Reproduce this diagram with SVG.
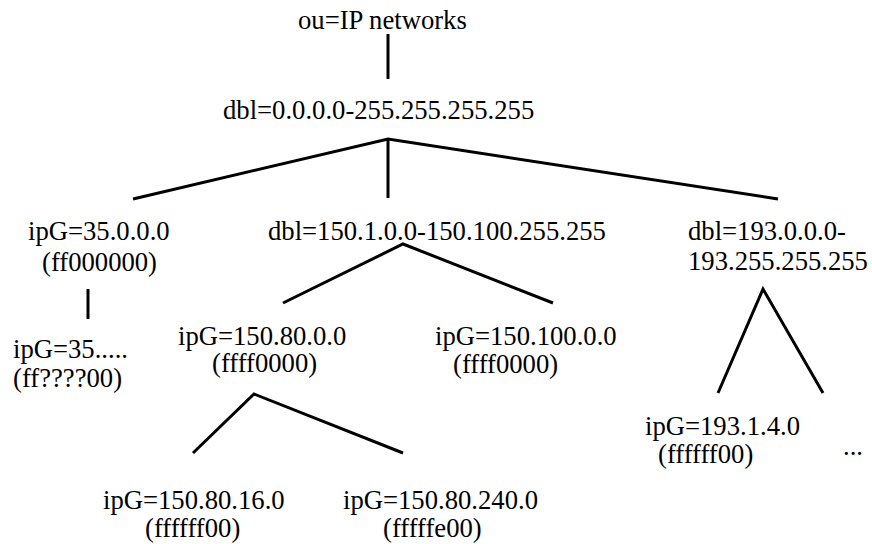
<svg xmlns="http://www.w3.org/2000/svg" width="872" height="544" viewBox="0 0 872 544">
  <style>
    .label { font-family: 'Liberation Serif', Tinos, 'Times New Roman', 'Nimbus Roman', 'Nimbus Roman No9 L', FreeSerif, 'DejaVu Serif', 'Noto Serif', serif; font-size: 26.67px; fill: #000; }
    .edge { fill: none; stroke: #000; stroke-width: 3; stroke-linejoin: miter; }
  </style>
  <rect width="872" height="544" fill="#fff"/>

  <!-- tree edges -->
  <g id="connectors">
    <line class="edge" x1="388" y1="34" x2="388" y2="79"/>
    <polyline class="edge" points="133,199 388,139 778,199"/>
    <line class="edge" x1="388" y1="139" x2="388" y2="198"/>
    <line class="edge" x1="88" y1="289" x2="88" y2="319"/>
    <polyline class="edge" points="283,303 403,244 553,303"/>
    <polyline class="edge" points="718,393 763,289 823,393"/>
    <polyline class="edge" points="193,453 254,394 403,453"/>
  </g>

  <g class="label">
    <g id="root">
      <text x="298" y="29">ou=IP networks</text>
    </g>
    <g id="all-range">
      <text x="223" y="119">dbl=0.0.0.0-255.255.255.255</text>
    </g>
    <g id="net-35">
      <text x="28" y="240">ipG=35.0.0.0</text>
      <text x="42" y="271">(ff000000)</text>
    </g>
    <g id="range-150">
      <text x="268" y="240">dbl=150.1.0.0-150.100.255.255</text>
    </g>
    <g id="range-193">
      <text x="688" y="240">dbl=193.0.0.0-</text>
      <text x="688" y="270">193.255.255.255</text>
    </g>
    <g id="net-35-sub">
      <text x="13" y="358">ipG=35.....</text>
      <text x="13" y="387">(ff????00)</text>
    </g>
    <g id="net-150-80">
      <text x="178" y="345">ipG=150.80.0.0</text>
      <text x="212" y="372">(ffff0000)</text>
    </g>
    <g id="net-150-100">
      <text x="435" y="345">ipG=150.100.0.0</text>
      <text x="453" y="373">(ffff0000)</text>
    </g>
    <g id="net-193-1-4">
      <text x="645" y="435">ipG=193.1.4.0</text>
      <text x="658" y="463">(ffffff00)</text>
    </g>
    <g id="more-193">
      <text x="843" y="455">...</text>
    </g>
    <g id="net-150-80-16">
      <text x="103" y="509">ipG=150.80.16.0</text>
      <text x="145" y="537">(ffffff00)</text>
    </g>
    <g id="net-150-80-240">
      <text x="343" y="509">ipG=150.80.240.0</text>
      <text x="383" y="537">(fffffe00)</text>
    </g>
  </g>
</svg>
